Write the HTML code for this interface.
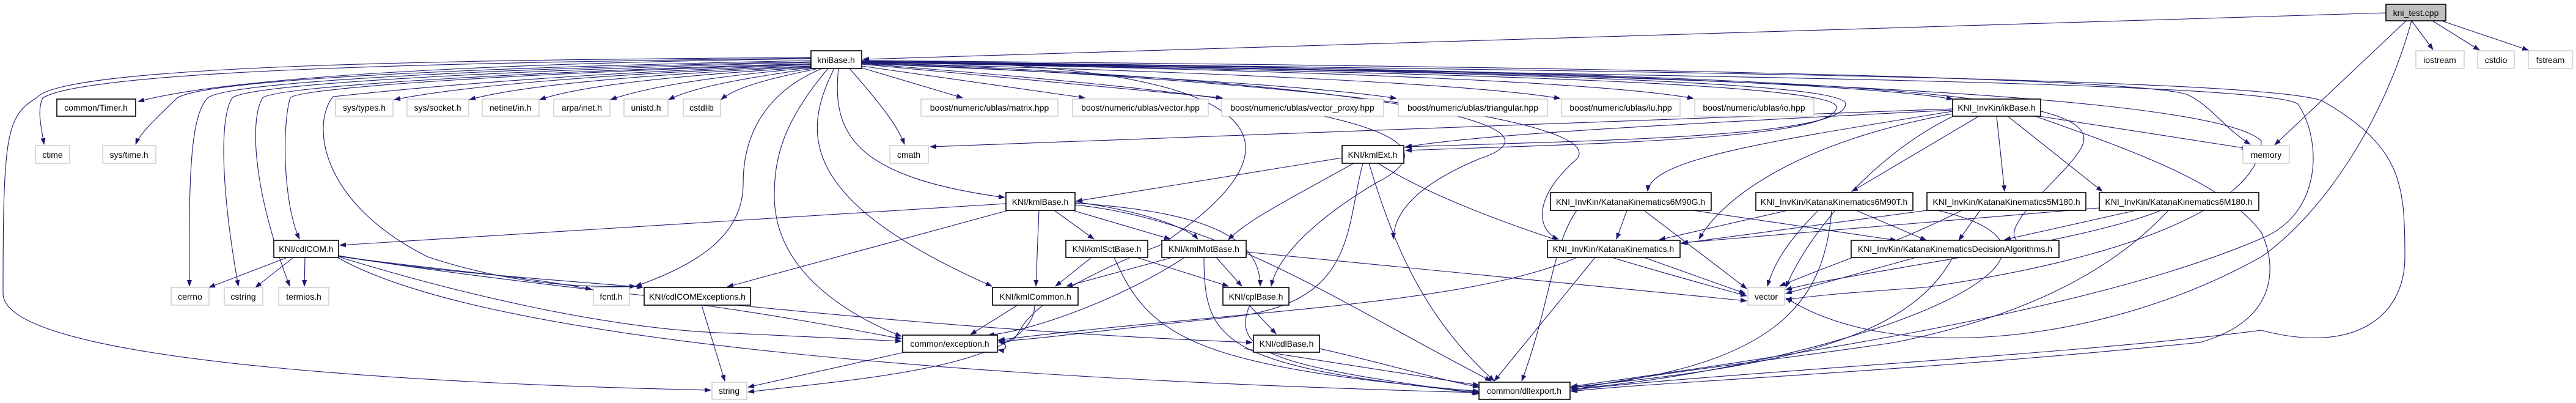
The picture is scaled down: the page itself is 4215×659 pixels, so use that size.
<!DOCTYPE html>
<html><head><meta charset="utf-8"><style>
html,body{margin:0;padding:0;background:#fff;}
svg{display:block;}
text{font-family:"Liberation Sans",sans-serif;font-size:14px;fill:#000;}
.e{fill:none;stroke:#191970;stroke-width:1.1;}
.b{fill:#fff;stroke:#000;stroke-width:1.6;}
.g{fill:#fff;stroke:#c0c0c0;stroke-width:1.2;}
</style></head><body>
<svg width="4215" height="659" viewBox="0 0 4215 659" xmlns="http://www.w3.org/2000/svg">
<defs><marker id="a" markerUnits="userSpaceOnUse" markerWidth="11" markerHeight="8" refX="10" refY="4" orient="auto"><path d="M0,0 L11,4 L0,8 z" fill="#191970"/></marker></defs>
<g class="e" marker-end="url(#a)">
<!-- kni_test -->
<path d="M3904,21 L1412,97"/>
<path d="M3946,34 L3981,81"/>
<path d="M3980,34 L4057,82"/>
<path d="M3995,34 L4137,82"/>
<path d="M3937,34 L3722,237"/>
<path d="M3946,34 C3900,200 3800,350 3700,420 C3450,560 3100,600 2922,487"/>
<!-- kniBase left -->
<path d="M1327,96 C900,102 400,120 226,166"/>
<path d="M1327,95 C800,102 150,112 70,160 C60,180 68,210 72,236"/>
<path d="M1327,99 C900,108 350,125 290,160 C270,180 230,215 222,236"/>
<path d="M1327,101 C900,110 380,130 340,160 C310,190 309,300 310,468"/>
<path d="M1327,102 C900,113 410,135 380,160 C360,190 360,300 390,468"/>
<path d="M1327,104 C900,116 450,140 430,160 C410,190 410,300 474,468"/>
<path d="M1327,105 C900,118 490,142 475,160 C462,200 462,330 490,391"/>
<path d="M1327,94 C700,98 100,108 60,160 C10,190 5,220 5,480 C5,600 800,630 1163,638"/>
<path d="M1327,106 C1000,118 760,135 545,158 C510,200 520,330 700,420 C850,470 980,470 1040,468"/>
<path d="M1327,108 C1000,120 760,140 645,163"/>
<path d="M1327,109 C1050,122 850,140 768,163"/>
<path d="M1327,110 C1100,124 950,140 883,163"/>
<path d="M1327,111 C1150,126 1050,145 999,163"/>
<path d="M1330,112 C1200,130 1130,145 1094,163"/>
<path d="M1335,113 C1250,130 1200,145 1180,163"/>
<path d="M1345,112 C1230,160 1216,250 1216,300 C1216,380 1150,430 1040,468"/>
<path d="M1355,112 C1280,200 1267,260 1267,320 C1267,450 1400,520 1475,550"/>
<path d="M1365,112 C1310,220 1310,330 1623,468"/>
<path d="M1372,112 C1360,220 1400,290 1644,323"/>
<path d="M1390,112 C1450,180 1470,210 1480,236"/>
<path d="M1410,111 L1575,160"/>
<path d="M1410,108 L1775,160"/>
<path d="M1410,105 L2000,160"/>
<path d="M1410,104 C1800,120 2150,140 2285,161"/>
<path d="M1410,103 C1900,115 2400,135 2553,161"/>
<path d="M1410,102 C2000,112 2600,130 2771,161"/>
<path d="M1410,100 C2200,108 3000,130 3195,162"/>
<path d="M1410,99 C2500,108 3500,125 3580,155 C3620,175 3640,210 3682,236"/>
<path d="M1410,101 C2500,118 3020,135 3020,170 C3020,225 2600,230 2300,240"/>
<path d="M1410,102 C2500,120 3005,140 3005,175 C3005,228 2600,235 2300,246"/>
<path d="M1410,101 C2500,122 3700,130 3760,170 C3800,230 3800,350 3700,390 C3400,520 2800,600 2571,632"/>
<path d="M1410,100 C2500,115 3700,125 3800,165 C3930,240 3935,300 3935,420 C3935,520 3850,580 3700,540 C3400,580 2800,610 2571,638"/>
<path d="M1410,100 C2500,118 3600,140 3700,230 C3700,330 3500,420 3150,470 C3000,480 2960,485 2922,490"/>
<path d="M1410,102 C2200,130 2600,200 2420,260 C2300,310 2280,360 2280,391"/>
<path d="M1410,103 C2200,135 2630,200 2580,260 C2500,330 2520,380 2550,391"/>
<path d="M1410,104 C2000,150 2450,200 2250,300 C2150,360 2090,420 2080,468"/>
<path d="M1410,101 C3200,120 3470,160 3400,250 C3370,300 3200,420 3370,400"/>
<path d="M1410,99 C2000,100 2200,200 1900,400 C1600,520 1700,560 1634,560"/>
<!-- ikBase -->
<path d="M3195,178 C2800,190 2300,210 1522,240"/>
<path d="M3195,180 C2800,200 2400,220 2299,241"/>
<path d="M3195,182 C2900,230 2700,260 2696,313"/>
<path d="M3238,190 L3030,313"/>
<path d="M3267,190 L3280,313"/>
<path d="M3285,190 L3440,313"/>
<path d="M3330,189 L3678,243"/>
<path d="M3330,190 C3500,250 3640,300 3700,380 C3720,420 3740,520 3600,560 C3100,610 2700,625 2571,640"/>
<path d="M3195,186 C2950,230 2820,320 2780,391"/>
<path d="M3200,188 C3050,260 2950,400 2922,470"/>
<!-- kmlExt -->
<path d="M2196,258 L1761,329"/>
<path d="M2215,267 C2120,320 2040,360 2010,392"/>
<path d="M2230,267 C2200,380 2220,500 2000,520 C1800,540 1700,555 1634,558"/>
<path d="M2255,267 C2400,360 2700,440 2858,484"/>
<path d="M2240,267 C2280,400 2330,520 2445,623"/>
<!-- kmlBase -->
<path d="M1646,333 L556,401"/>
<path d="M1650,344 L1190,469"/>
<path d="M1700,344 L1695,468"/>
<path d="M1725,344 L1790,391"/>
<path d="M1755,344 L1915,391"/>
<path d="M1759,330 C1900,350 1950,380 1960,391"/>
<path d="M1759,332 C1950,345 2063,380 2062,468"/>
<path d="M1759,335 C2000,360 2200,500 2440,623"/>
<!-- kmlSctBase / kmlMotBase -->
<path d="M1786,421 L1727,468"/>
<path d="M1860,421 L2010,468"/>
<path d="M1823,421 C1880,550 1950,600 2420,640"/>
<path d="M1918,421 L1745,468"/>
<path d="M1938,421 C1850,480 1700,540 1617,548"/>
<path d="M1990,421 L2032,468"/>
<path d="M2039,412 L2858,492"/>
<path d="M1970,421 C1970,560 2000,600 2420,642"/>
<!-- kmlCommon, cplBase, cdlBase, exception -->
<path d="M1665,499 L1588,547"/>
<path d="M1693,499 C1693,600 1400,620 1224,641"/>
<path d="M2044,499 L2088,546"/>
<path d="M2045,499 C2010,580 2100,600 2420,644"/>
<path d="M2159,570 C2250,590 2350,620 2420,633"/>
<path d="M1480,576 L1224,633"/>
<path d="M1632,556 C1650,560 1650,575 1633,572"/>
<!-- cdlCOMExceptions / cdlCOM -->
<path d="M1150,499 C1300,520 1400,540 1475,554"/>
<path d="M1148,499 L1186,623"/>
<path d="M470,421 L342,470"/>
<path d="M480,421 L418,470"/>
<path d="M499,421 L498,468"/>
<path d="M554,419 C700,440 850,450 968,473"/>
<path d="M554,419 C750,450 950,460 1052,470"/>
<path d="M554,420 C750,480 1000,540 1200,545 C1300,550 1400,555 1475,558"/>
<path d="M554,418 C800,460 1500,540 2049,560"/>
<path d="M554,422 C800,560 1600,620 2418,642"/>
<!-- KatanaKinematics row -->
<path d="M2580,344 C2540,400 2536,500 2490,623"/>
<path d="M2662,344 L2645,391"/>
<path d="M2690,344 L2858,472"/>
<path d="M2770,344 L3103,393"/>
<path d="M2925,344 L2715,392"/>
<path d="M2975,344 C2940,380 2905,420 2892,468"/>
<path d="M2997,344 C2985,500 2900,600 2571,634"/>
<path d="M3037,344 L3152,393"/>
<path d="M3153,344 L2750,398"/>
<path d="M3210,344 C3100,400 3000,430 2912,468"/>
<path d="M3170,344 C3500,420 3000,600 2571,636"/>
<path d="M3240,344 L3205,393"/>
<path d="M3435,340 L2752,397"/>
<path d="M3495,344 L3280,392"/>
<path d="M3536,344 C3400,400 3000,450 2922,474"/>
<path d="M3548,344 C3450,450 3300,520 3100,560 C2900,590 2700,610 2571,638"/>
<path d="M2690,421 L2856,480"/>
<path d="M2610,421 L2445,623"/>
<path d="M2580,421 C2400,500 2000,510 1634,556"/>
<path d="M3135,421 L2922,480"/>
<path d="M3195,421 C3120,560 2900,600 2571,633"/>
<path d="M2035,570 L2420,630"/>
</g>
<!-- nodes -->
<g>
<rect x="3904" y="7" width="98" height="27" fill="#bfbfbf" stroke="#000" stroke-width="1.6"/><text x="3953" y="26" text-anchor="middle">kni_test.cpp</text>
<rect class="b" x="1327" y="83" width="83" height="29"/><text x="1368" y="103" text-anchor="middle">kniBase.h</text>
<rect class="g" x="3953" y="83" width="79" height="29"/><text x="3992" y="103" text-anchor="middle">iostream</text>
<rect class="g" x="4054" y="83" width="60" height="29"/><text x="4084" y="103" text-anchor="middle">cstdio</text>
<rect class="g" x="4137" y="83" width="72" height="29"/><text x="4173" y="103" text-anchor="middle">fstream</text>

<rect class="b" x="93" y="162" width="129" height="28"/><text x="157" y="181" text-anchor="middle">common/Timer.h</text>
<rect class="g" x="549" y="162" width="94" height="28"/><text x="596" y="181" text-anchor="middle">sys/types.h</text>
<rect class="g" x="666" y="162" width="101" height="28"/><text x="716" y="181" text-anchor="middle">sys/socket.h</text>
<rect class="g" x="789" y="162" width="93" height="28"/><text x="835" y="181" text-anchor="middle">netinet/in.h</text>
<rect class="g" x="906" y="162" width="92" height="28"/><text x="952" y="181" text-anchor="middle">arpa/inet.h</text>
<rect class="g" x="1021" y="162" width="72" height="28"/><text x="1057" y="181" text-anchor="middle">unistd.h</text>
<rect class="g" x="1118" y="162" width="61" height="28"/><text x="1148" y="181" text-anchor="middle">cstdlib</text>
<rect class="g" x="1507" y="162" width="224" height="28"/><text x="1619" y="181" text-anchor="middle">boost/numeric/ublas/matrix.hpp</text>
<rect class="g" x="1755" y="162" width="222" height="28"/><text x="1866" y="181" text-anchor="middle">boost/numeric/ublas/vector.hpp</text>
<rect class="g" x="1999" y="162" width="265" height="28"/><text x="2131" y="181" text-anchor="middle">boost/numeric/ublas/vector_proxy.hpp</text>
<rect class="g" x="2288" y="162" width="244" height="28"/><text x="2410" y="181" text-anchor="middle">boost/numeric/ublas/triangular.hpp</text>
<rect class="g" x="2555" y="162" width="194" height="28"/><text x="2652" y="181" text-anchor="middle">boost/numeric/ublas/lu.hpp</text>
<rect class="g" x="2773" y="162" width="195" height="28"/><text x="2870" y="181" text-anchor="middle">boost/numeric/ublas/io.hpp</text>
<rect class="b" x="3195" y="162" width="144" height="28"/><text x="3267" y="181" text-anchor="middle">KNI_InvKin/ikBase.h</text>

<rect class="g" x="58" y="238" width="56" height="29"/><text x="86" y="258" text-anchor="middle">ctime</text>
<rect class="g" x="168" y="238" width="87" height="29"/><text x="211" y="258" text-anchor="middle">sys/time.h</text>
<rect class="g" x="1456" y="238" width="63" height="29"/><text x="1487" y="258" text-anchor="middle">cmath</text>
<rect class="b" x="2196" y="238" width="101" height="29"/><text x="2246" y="258" text-anchor="middle">KNI/kmlExt.h</text>
<rect class="g" x="3670" y="238" width="76" height="29"/><text x="3708" y="258" text-anchor="middle">memory</text>

<rect class="b" x="1646" y="315" width="113" height="29"/><text x="1702" y="335" text-anchor="middle">KNI/kmlBase.h</text>
<rect class="b" x="2537" y="315" width="263" height="29"/><text x="2668" y="335" text-anchor="middle">KNI_InvKin/KatanaKinematics6M90G.h</text>
<rect class="b" x="2873" y="315" width="257" height="29"/><text x="3001" y="335" text-anchor="middle">KNI_InvKin/KatanaKinematics6M90T.h</text>
<rect class="b" x="3153" y="315" width="260" height="29"/><text x="3283" y="335" text-anchor="middle">KNI_InvKin/KatanaKinematics5M180.h</text>
<rect class="b" x="3435" y="315" width="261" height="29"/><text x="3565" y="335" text-anchor="middle">KNI_InvKin/KatanaKinematics6M180.h</text>

<rect class="b" x="448" y="393" width="106" height="28"/><text x="501" y="412" text-anchor="middle">KNI/cdlCOM.h</text>
<rect class="b" x="1744" y="393" width="134" height="28"/><text x="1811" y="412" text-anchor="middle">KNI/kmlSctBase.h</text>
<rect class="b" x="1901" y="393" width="138" height="28"/><text x="1970" y="412" text-anchor="middle">KNI/kmlMotBase.h</text>
<rect class="b" x="2532" y="393" width="217" height="28"/><text x="2640" y="412" text-anchor="middle">KNI_InvKin/KatanaKinematics.h</text>
<rect class="b" x="3029" y="393" width="340" height="28"/><text x="3199" y="412" text-anchor="middle">KNI_InvKin/KatanaKinematicsDecisionAlgorithms.h</text>

<rect class="g" x="280" y="470" width="62" height="29"/><text x="311" y="490" text-anchor="middle">cerrno</text>
<rect class="g" x="367" y="470" width="63" height="29"/><text x="398" y="490" text-anchor="middle">cstring</text>
<rect class="g" x="456" y="470" width="82" height="29"/><text x="497" y="490" text-anchor="middle">termios.h</text>
<rect class="g" x="971" y="470" width="59" height="29"/><text x="1000" y="490" text-anchor="middle">fcntl.h</text>
<rect class="b" x="1054" y="470" width="174" height="29"/><text x="1141" y="490" text-anchor="middle">KNI/cdlCOMExceptions.h</text>
<rect class="b" x="1624" y="470" width="140" height="29"/><text x="1694" y="490" text-anchor="middle">KNI/kmlCommon.h</text>
<rect class="b" x="2001" y="470" width="108" height="29"/><text x="2055" y="490" text-anchor="middle">KNI/cplBase.h</text>
<rect class="g" x="2860" y="470" width="60" height="29"/><text x="2890" y="490" text-anchor="middle">vector</text>

<rect class="b" x="1477" y="548" width="155" height="28"/><text x="1554" y="567" text-anchor="middle">common/exception.h</text>
<rect class="b" x="2051" y="548" width="108" height="28"/><text x="2105" y="567" text-anchor="middle">KNI/cdlBase.h</text>

<rect class="g" x="1165" y="625" width="57" height="28"/><text x="1193" y="644" text-anchor="middle">string</text>
<rect class="b" x="2420" y="625" width="149" height="28"/><text x="2494" y="644" text-anchor="middle">common/dllexport.h</text>
</g>
</svg>
</body></html>
